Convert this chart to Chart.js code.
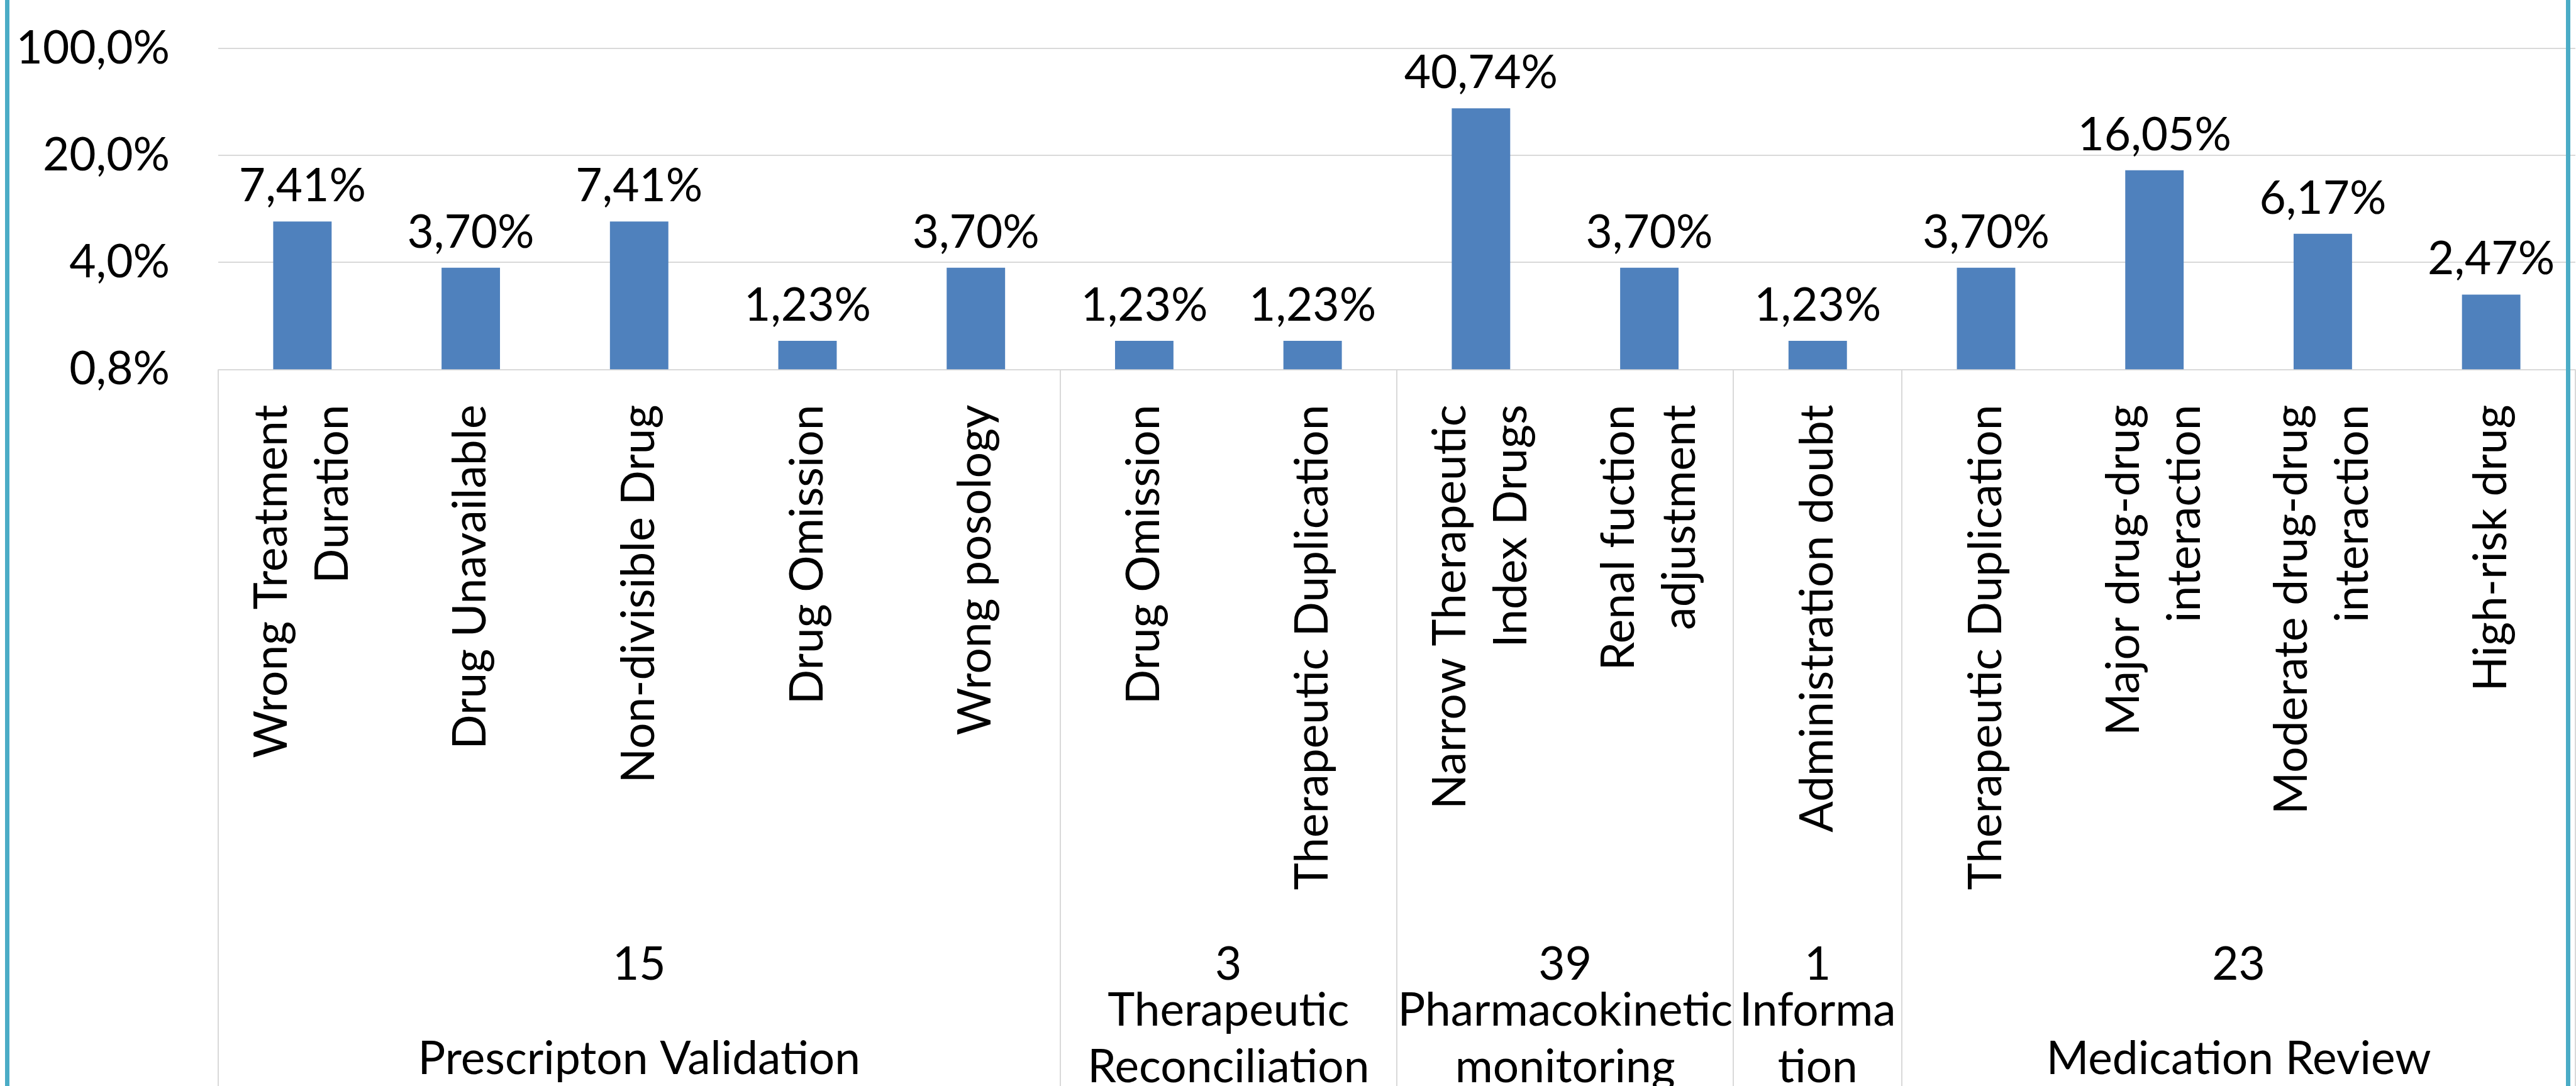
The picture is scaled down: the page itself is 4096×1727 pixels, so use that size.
<!DOCTYPE html>
<html><head><meta charset="utf-8">
<script src="https://cdn.jsdelivr.net/npm/chart.js@4.4.0/dist/chart.umd.min.js"></script>
<style>html,body{margin:0;padding:0;background:#fff;overflow:hidden}#wrap{width:4096px;height:1727px;position:relative}</style>
</head><body><div id="wrap"><canvas id="c"></canvas></div>
<script>
const categories = [["Wrong Treatment","Duration"],"Drug Unavailable","Non-divisible Drug","Drug Omission","Wrong posology","Drug Omission","Therapeutic Duplication",["Narrow Therapeutic","Index Drugs"],["Renal fuction","adjustment"],"Administration doubt","Therapeutic Duplication",["Major drug-drug","interaction"],["Moderate drug-drug","interaction"],"High-risk drug"];
const values = [7.41,3.70,7.41,1.23,3.70,1.23,1.23,40.74,3.70,1.23,3.70,16.05,6.17,2.47];
const groupNames = [["Prescripton Validation"],["Therapeutic","Reconciliation"],["Pharmacokinetic","monitoring"],["Informa","tion"],["Medication Review"]];
const groupCounts = ["15","3","39","1","23"];
const groupSizes = [5,2,2,1,4];
const yTicks = [0.8,4,20,100];

const FONT = 'Lato';
const FS = 73;
const fmtPct = v => v.toFixed(2).replace('.', ',') + '%';
const fmtTick = v => v.toFixed(1).replace('.', ',') + '%';

const customPlugin = {
  id: 'custom',
  afterDatasetsDraw(chart) {
    const ctx = chart.ctx;
    const meta = chart.getDatasetMeta(0);
    ctx.save();
    ctx.font = `${FS}px ${FONT}`;
    ctx.fillStyle = '#000';
    ctx.textAlign = 'center';
    ctx.textBaseline = 'alphabetic';
    meta.data.forEach((el, i) => {
      ctx.fillText(fmtPct(values[i]), el.x, el.y - 32);
    });
    ctx.restore();
  },
  afterDraw(chart) {
    const ctx = chart.ctx;
    const xs = chart.scales.x, ys = chart.scales.y;
    const H = chart.height;
    const catW = xs.getPixelForValue(1) - xs.getPixelForValue(0);
    ctx.save();
    ctx.font = `${FS}px ${FONT}`;
    ctx.fillStyle = '#000';
    const lh = 97;
    categories.forEach((lab, i) => {
      const lines = Array.isArray(lab) ? lab : [lab];
      const px = xs.getPixelForValue(i);
      lines.forEach((ln, j) => {
        const cx = px + (j - (lines.length - 1) / 2) * lh;
        ctx.save();
        ctx.translate(cx, ys.bottom + 56);
        ctx.rotate(-Math.PI / 2);
        ctx.textAlign = 'right';
        ctx.textBaseline = 'middle';
        ctx.fillText(ln, 0, 0);
        ctx.restore();
      });
    });
    ctx.strokeStyle = '#d9d9d9';
    ctx.lineWidth = 2;
    let start = 0;
    const bounds = [0];
    groupSizes.forEach(n => { start += n; bounds.push(start); });
    bounds.forEach(b => {
      const bx = Math.round(xs.getPixelForValue(b) - catW / 2);
      ctx.beginPath();
      ctx.moveTo(bx, ys.bottom);
      ctx.lineTo(bx, H);
      ctx.stroke();
    });
    ctx.textAlign = 'center';
    ctx.textBaseline = 'alphabetic';
    let s = 0;
    groupSizes.forEach((n, g) => {
      const cx = (xs.getPixelForValue(s) + xs.getPixelForValue(s + n - 1)) / 2;
      ctx.fillText(groupCounts[g], cx, 1558);
      const lines = groupNames[g];
      if (lines.length === 1) {
        ctx.fillText(lines[0], cx, 1708);
      } else {
        lines.forEach((ln, j) => ctx.fillText(ln, cx, 1631 + j * 90));
      }
      s += n;
    });
    ctx.fillStyle = '#4bacc6';
    ctx.fillRect(8, 0, 7, H);
    ctx.fillRect(4080, 0, 7, H);
    ctx.restore();
  }
};

new Chart(document.getElementById('c'), {
  type: 'bar',
  data: {
    labels: categories,
    datasets: [{
      data: values,
      backgroundColor: '#4f81bd',
      borderWidth: 0,
      barPercentage: 0.347,
      categoryPercentage: 1.0
    }]
  },
  options: {
    responsive: true,
    maintainAspectRatio: false,
    devicePixelRatio: 1,
    animation: false,
    layout: { padding: { top: 77, left: 0, right: 1, bottom: 0 }, autoPadding: false },
    plugins: { legend: { display: false }, tooltip: { enabled: false }, title: { display: false } },
    scales: {
      y: {
        type: 'logarithmic',
        min: 0.8,
        max: 100,
        afterBuildTicks: s => { s.ticks = yTicks.map(v => ({ value: v })); },
        afterFit: s => { s.width = 347; },
        ticks: {
          font: { family: FONT, size: FS, lineHeight: 0.01 },
          color: '#000',
          padding: 77,
          callback: v => fmtTick(v)
        },
        grid: { color: '#d9d9d9', lineWidth: 2, drawTicks: false },
        border: { display: false }
      },
      x: {
        type: 'category',
        offset: true,
        afterFit: s => { s.height = 1727 - 587.5; },
        ticks: { display: false },
        grid: { display: false, drawTicks: false },
        border: { display: false }
      }
    }
  },
  plugins: [customPlugin]
});
</script></body></html>
